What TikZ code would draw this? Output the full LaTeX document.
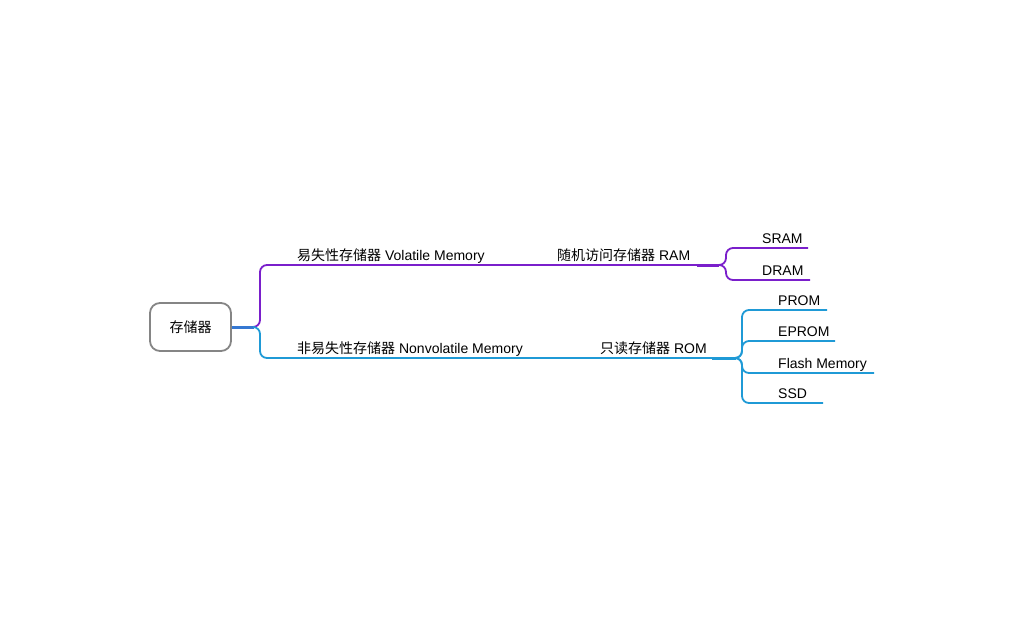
\documentclass[tikz,border=0pt]{standalone}
\usepackage{fontspec}
\setmainfont{Liberation Sans}
\newfontfamily\cjk{Noto Sans CJK SC}
\definecolor{vio}{HTML}{7A1FCB}
\definecolor{sky}{HTML}{1F9AD6}
\definecolor{rootblue}{HTML}{3578D2}
\definecolor{boxgray}{HTML}{858585}
\begin{document}
\begin{tikzpicture}[x=1pt,y=-1pt,
  lbl/.style={anchor=base west,inner sep=0pt,font=\fontsize{14}{16}\selectfont,text=black},
  vline/.style={draw=vio,line width=1.8pt,rounded corners=7pt},
  bline/.style={draw=sky,line width=1.8pt,rounded corners=7pt},
  thickv/.style={draw=vio,line width=3pt},
  thickb/.style={draw=sky,line width=3pt}]
\useasboundingbox (0,0) rectangle (1024,633);
\node[draw=boxgray,line width=1.8pt,rounded corners=10pt,minimum width=81pt,minimum height=48pt,
  font=\fontsize{14}{16}\selectfont\cjk] (root) at (190.5,327) {存储器};
% coordinates
\coordinate (fork) at (254,327);
\coordinate (v1) at (697,265);
\coordinate (v1e) at (719,265);
\coordinate (b1) at (712,358);
\coordinate (b1e) at (736,358);
\coordinate (sram) at (808,248);
\coordinate (dram) at (810,280);
\coordinate (prom) at (827,310);
\coordinate (eprom) at (835,341);
\coordinate (flash) at (874,373);
\coordinate (ssd) at (823,403);
% root stub
\draw[draw=rootblue,line width=3pt] (root.east) -- (fork);
% level 1
\draw[vline] (fork) -| (260,265) -- (v1);
\draw[bline] (fork) -| (260,358) -- (b1);
\draw[thickv] (v1) -- (v1e);
\draw[thickb] (b1) -- (b1e);
% level 2 RAM
\draw[vline] (v1e) -| (726,248) -- (sram);
\draw[vline] (v1e) -| (726,280) -- (dram);
% level 2 ROM
\draw[bline] (b1e) -| (742,310) -- (prom);
\draw[bline] (b1e) -| (742,341) -- (eprom);
\draw[bline] (b1e) -| (742,373) -- (flash);
\draw[bline] (b1e) -| (742,403) -- (ssd);
% labels
\node[lbl] (lv) at (297,260.5) {{\cjk 易失性存储器} Volatile Memory};
\node[lbl] (ln) at (297,353) {{\cjk 非易失性存储器} Nonvolatile Memory};
\node[lbl] (lram) at (557,260.5) {{\cjk 随机访问存储器} RAM};
\node[lbl] (lrom) at (600,353) {{\cjk 只读存储器} ROM};
\node[lbl] (lsram) at (762,243.5) {SRAM};
\node[lbl] (ldram) at (762,275.5) {DRAM};
\node[lbl] (lprom) at (778,305.5) {PROM};
\node[lbl] (leprom) at (778,336.5) {EPROM};
\node[lbl] (lflash) at (778,368) {Flash Memory};
\node[lbl] (lssd) at (778,398.5) {SSD};
\end{tikzpicture}
\end{document}
